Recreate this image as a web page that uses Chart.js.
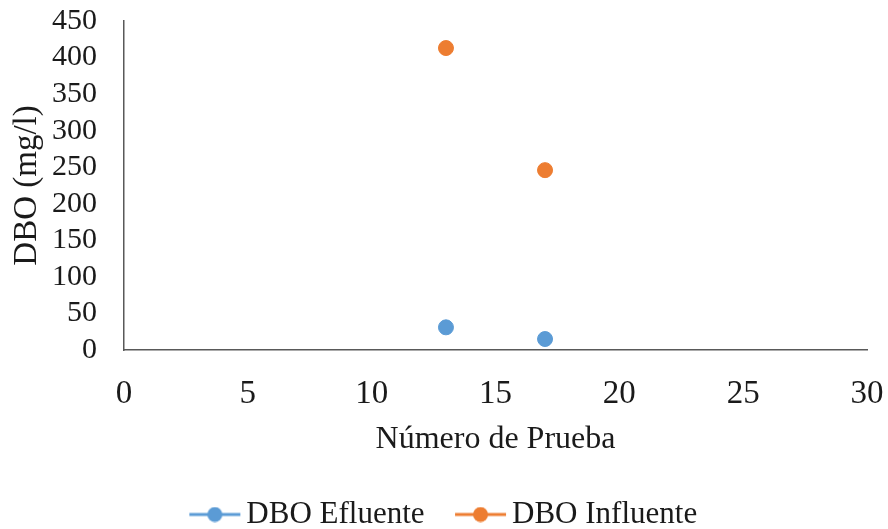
<!DOCTYPE html>
<html lang="es">
<head>
    <meta charset="UTF-8">
    <title>DBO</title>
    <script src="https://cdn.jsdelivr.net/npm/chart.js"></script>
    <style>
        body { margin: 0; padding: 0; background: #ffffff; }
        .chart-wrapper { position: relative; width: 888px; height: 529px; }
    </style>
</head>
<body>
    <div class="chart-wrapper">
        <canvas id="dboChart"></canvas>
    </div>
    <script>
        // data
        var pruebas = [13, 17];
        var dboEfluente = [31, 15];
        var dboInfluente = [413, 246];
        var seriesNames = ['DBO Efluente', 'DBO Influente'];
        var seriesColors = ['#5B9BD5', '#ED7D31'];

        var serif = "'Liberation Serif', 'Times New Roman', serif";

        function toPoints(values) {
            return pruebas.map(function(x, i) { return { x: x, y: values[i] }; });
        }

        // line-with-dot icon for the legend
        function legendIcon(color) {
            var c = document.createElement('canvas');
            c.width = 53; c.height = 16;
            var g = c.getContext('2d');
            g.strokeStyle = color;
            g.lineWidth = 3;
            g.beginPath(); g.moveTo(1, 8); g.lineTo(52, 8); g.stroke();
            g.fillStyle = color;
            g.beginPath(); g.arc(26.5, 8, 7.5, 0, Math.PI * 2); g.fill();
            return c;
        }

        var ctx = document.getElementById('dboChart').getContext('2d');
        var chart = new Chart(ctx, {
            type: 'scatter',
            data: {
                datasets: [
                    { label: seriesNames[0], data: toPoints(dboEfluente), backgroundColor: seriesColors[0], borderColor: seriesColors[0], pointRadius: 7.5, pointHoverRadius: 7.5 },
                    { label: seriesNames[1], data: toPoints(dboInfluente), backgroundColor: seriesColors[1], borderColor: seriesColors[1], pointRadius: 7.5, pointHoverRadius: 7.5 }
                ]
            },
            options: {
                responsive: true,
                maintainAspectRatio: false,
                animation: false,
                layout: { padding: { top: 21, right: 0, bottom: 0, left: 8 } },
                scales: {
                    x: {
                        type: 'linear',
                        min: 0, max: 30,
                        afterFit: function(axis) {
                            axis.height = 109;
                            axis.paddingLeft = 0;
                            axis.paddingRight = 21;
                        },
                        ticks: { stepSize: 5, autoSkip: false, maxRotation: 0, color: '#1a1a1a', padding: 17, font: { family: serif, size: 33 } },
                        grid: { display: false },
                        border: { display: true, color: '#595959', width: 1.5 },
                        title: { display: true, text: 'Número de Prueba', color: '#1a1a1a', font: { family: serif, size: 32 }, padding: { top: 0, bottom: 0 } }
                    },
                    y: {
                        min: 0, max: 450,
                        afterFit: function(axis) {
                            axis.width = 116;
                            axis.paddingTop = 0;
                            axis.paddingBottom = 0;
                        },
                        ticks: { stepSize: 50, autoSkip: false, color: '#1a1a1a', padding: 19, font: { family: serif, size: 30 } },
                        grid: { display: false },
                        border: { display: true, color: '#595959', width: 1.5 },
                        title: { display: true, text: 'DBO (mg/l)', color: '#1a1a1a', font: { family: serif, size: 33 }, padding: { top: 0, bottom: 0 } }
                    }
                },
                plugins: {
                    legend: {
                        position: 'bottom',
                        maxHeight: 70,
                        labels: {
                            color: '#1a1a1a',
                            font: { family: serif, size: 31 },
                            usePointStyle: true,
                            pointStyleWidth: 32,
                            padding: 40,
                            generateLabels: function(c) {
                                return c.data.datasets.map(function(ds, i) {
                                    return { text: ds.label, pointStyle: legendIcon(seriesColors[i]), fillStyle: seriesColors[i], strokeStyle: seriesColors[i], lineWidth: 0, datasetIndex: i, fontColor: '#1a1a1a' };
                                });
                            }
                        }
                    },
                    tooltip: { enabled: false }
                }
            }
        });
    </script>
</body>
</html>
